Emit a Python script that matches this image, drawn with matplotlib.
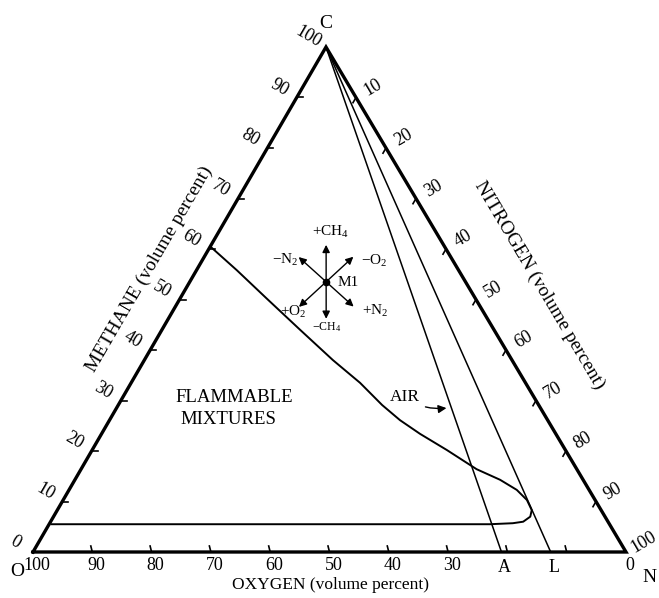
import matplotlib
matplotlib.use('Agg')
import matplotlib.pyplot as plt
import numpy as np

plt.rcParams['font.family'] = ['Liberation Serif', 'DejaVu Serif']
plt.rcParams['mathtext.fontset'] = 'custom'
plt.rcParams['mathtext.rm'] = 'Liberation Serif'
plt.rcParams['mathtext.it'] = 'Liberation Serif:italic'

# flammability envelope for CH4 / O2 / N2, volume percent (N2 = remainder)
flam_ch4 = [60.5, 55.8, 50.2, 44.0, 38.0, 33.5, 29.1, 26.1, 23.4, 20.2,
            16.4, 14.3, 12.3, 10.3, 8.3, 7.0, 6.0, 5.7, 5.5, 5.5]
flam_o2 = [39.5, 37.4, 35.2, 32.7, 30.2, 27.9, 26.4, 24.9, 22.9, 20.0,
           16.9, 14.0, 12.2, 11.5, 11.7, 12.6, 14.3, 16.2, 20.2, 94.1]

# oxygen content where the air line (A) and the LOC line (L) meet the base
air_o2 = 21.0
loc_o2 = 12.7

# mixture point M1
m1_ch4, m1_o2 = 53.5, 23.5

tick_vals = [10, 20, 30, 40, 50, 60, 70, 80, 90]
left_labels = [0, 10, 20, 30, 40, 50, 60, 70, 80, 90, 100]
right_labels = [10, 20, 30, 40, 50, 60, 70, 80, 90, 100]
bottom_labels = [100, 90, 80, 70, 60, 50, 40, 30, 0]

W, H = 659, 598
fig = plt.figure(figsize=(W / 100, H / 100), dpi=100)
ax = fig.add_axes([0, 0, 1, 1])
ax.set_xlim(0, W)
ax.set_ylim(H, 0)
ax.axis('off')

# corners of the diagram (pure oxygen, pure nitrogen, pure methane)
O = np.array([33.0, 552.0])
N = np.array([626.0, 552.0])
C = np.array([326.0, 47.0])


def tern(ch4, o2):
    c = np.asarray(ch4, dtype=float) / 100
    o = np.asarray(o2, dtype=float) / 100
    n = 1 - c - o
    x = c * C[0] + o * O[0] + n * N[0]
    y = c * C[1] + o * O[1] + n * N[1]
    return x, y


def unit(v):
    v = np.asarray(v, dtype=float)
    return v / np.hypot(*v)


# triangle frame
tx, ty = tern([0, 100, 0, 0], [100, 0, 0, 100])
ax.plot(tx, ty, color='k', lw=2.4, solid_joinstyle='miter')

# ticks, drawn along the grid direction of each scale
tl = 6
for v in tick_vals:
    # methane (left side)
    x, y = tern(v, 100 - v)
    ax.plot([x, x + tl], [y, y], color='k', lw=1.2)
    # oxygen (base)
    x, y = tern(0, v)
    ax.plot([x, x - 1.5], [y, y - tl], color='k', lw=1.2)
    # nitrogen (right side)
    x, y = tern(100 - v, 0)
    d = unit(O - C) * tl
    ax.plot([x, x + d[0]], [y, y + d[1]], color='k', lw=1.2)

fs = 13
n_left = unit([-(C - O)[1], (C - O)[0]])
if n_left[0] > 0:
    n_left = -n_left
n_right = unit([(N - C)[1], -(N - C)[0]])
if n_right[0] < 0:
    n_right = -n_right
ang_left = np.degrees(np.arctan2(-(C - O)[1], (C - O)[0]))
ang_right = np.degrees(np.arctan2(-(N - C)[1], (N - C)[0]))

for v in left_labels:
    x, y = tern(v, 100 - v)
    p = np.array([x, y]) + n_left * 20
    ax.text(p[0], p[1], str(v), fontsize=fs, rotation=ang_left - 90,
            ha='center', va='center')

for v in right_labels:
    x, y = tern(100 - v, 0)
    p = np.array([x, y]) + n_right * 20
    ax.text(p[0], p[1], str(v), fontsize=fs, rotation=ang_right + 90,
            ha='center', va='center')

for v in bottom_labels:
    x, y = tern(0, v)
    ax.text(x + 4, y + 13, str(v), fontsize=fs, ha='center', va='center')

# axis titles
x, y = tern(52, 48)
p = np.array([x, y]) + n_left * 41
ax.text(p[0], p[1], 'METHANE (volume percent)', fontsize=14,
        rotation=ang_left, ha='center', va='center', rotation_mode='anchor')
x, y = tern(46.5, 0)
p = np.array([x, y]) + n_right * 62
ax.text(p[0], p[1], 'NITROGEN (volume percent)', fontsize=14,
        rotation=ang_right, ha='center', va='center', rotation_mode='anchor')
ax.text((O[0] + N[0]) / 2 + 1, 585, 'OXYGEN (volume percent)', fontsize=12.5,
        ha='center', va='center')

# corner letters
ax.text(O[0] - 16, O[1] + 19, 'O', fontsize=14, ha='center', va='center')
ax.text(N[0] + 23, N[1] + 25, 'N', fontsize=14, ha='center', va='center')
ax.text(C[0], C[1] - 24, 'C', fontsize=14, ha='center', va='center')

# air line and limiting oxygen line, both from pure methane
for o2, name in [(air_o2, 'A'), (loc_o2, 'L')]:
    lx, ly = tern([100, 0], [0, o2])
    ax.plot(lx, ly, color='k', lw=1.1)
    ax.text(lx[1] + 3, ly[1] + 16, name, fontsize=fs, ha='center',
            va='center')

# flammability envelope
fx, fy = tern(flam_ch4, flam_o2)
ax.plot(fx, fy, color='k', lw=1.4, solid_joinstyle='round')

ax.text(175, 397, 'FLAMMABLE', fontsize=13.5, ha='left', va='center')
ax.text(180, 419, 'MIXTURES', fontsize=13.5, ha='left', va='center')

# AIR pointer
ax_pt = tern(28.5, air_o2 * (1 - 0.285))
ax.annotate('AIR', xy=(ax_pt[0] - 5, ax_pt[1]), xytext=(405, 397),
            fontsize=12.5, ha='center', va='center',
            arrowprops=dict(arrowstyle='-|>', color='k', lw=1.0,
                            mutation_scale=12, shrinkA=2, shrinkB=0,
                            connectionstyle='arc3,rad=0.2'))

# composition-change arrows around M1
mx, my = tern(m1_ch4, m1_o2)
M = np.array([float(mx), float(my)])
ax.plot(M[0], M[1], 'o', color='k', ms=4.5)
alen = 37
for target, sign in [(C, 1), (C, -1), (N, 1), (N, -1), (O, 1), (O, -1)]:
    tip = M + sign * unit(target - M) * alen
    ax.annotate('', xy=tip, xytext=M,
                arrowprops=dict(arrowstyle='-|>', color='k', lw=1.0,
                                mutation_scale=11, shrinkA=0, shrinkB=0))

ax.text(331, 232, '+CH$_4$', fontsize=11, ha='center', va='center')
ax.text(327, 327, '\u2212CH$_4$', fontsize=8.5, ha='center', va='center')
ax.text(285, 260, '\u2212N$_2$', fontsize=11, ha='center', va='center')
ax.text(375, 311, '+N$_2$', fontsize=11, ha='center', va='center')
ax.text(374, 261, '\u2212O$_2$', fontsize=11, ha='center', va='center')
ax.text(293, 312, '+O$_2$', fontsize=11, ha='center', va='center')
ax.text(338, 283, 'M1', fontsize=11, ha='left', va='center')

fig.savefig('out.png', dpi=100, facecolor='white')
